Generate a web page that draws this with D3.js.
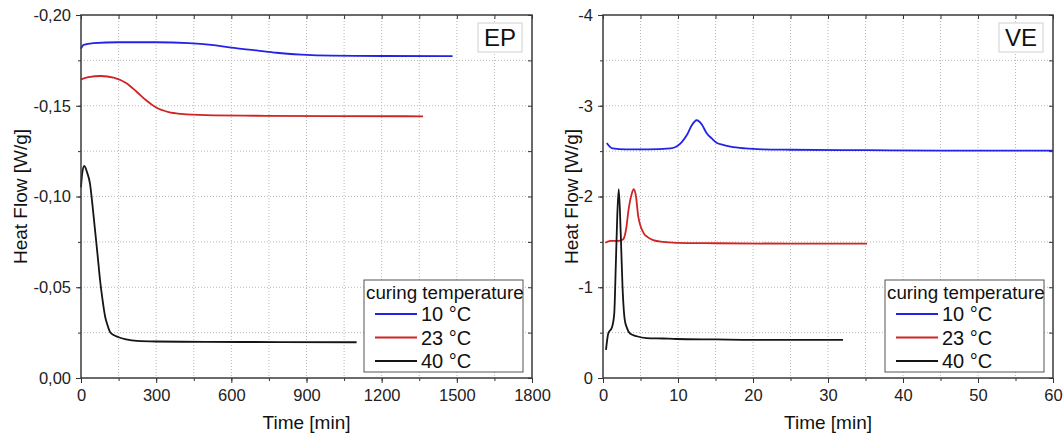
<!DOCTYPE html>
<html lang="en">
    <head>
        <meta charset="utf-8">
        <title>Heat Flow</title>
        <script src="https://d3js.org/d3.v7.min.js"></script>
        <style type="text/css">
            body { margin: 0; background: #fff; }
            svg { font-family: "Liberation Sans", Arial, sans-serif; }
        </style>
    </head>
    <body>
        <script type="text/javascript">

            const w = 1063;
            const h = 437;

            // EP panel (time in min, heat flow in W/g)
            const epTime10 = [0, 10, 50, 150, 300, 430, 520, 600, 700, 780, 880, 1000, 1200, 1483];
            const epFlow10 = [-0.1815, -0.1835, -0.1845, -0.185, -0.185, -0.1845, -0.1835, -0.182, -0.1805, -0.1792, -0.1782, -0.1776, -0.1774, -0.1773];
            const epTime23 = [0, 30, 80, 130, 180, 220, 260, 300, 350, 400, 500, 700, 1000, 1365];
            const epFlow23 = [-0.1645, -0.1658, -0.1664, -0.1655, -0.1625, -0.158, -0.153, -0.149, -0.1465, -0.1455, -0.1448, -0.1445, -0.1443, -0.1442];
            const epTime40 = [0, 5, 13, 25, 36, 46, 56, 66, 76, 86, 96, 106, 116, 130, 148, 180, 223, 300, 500, 800, 1100];
            const epFlow40 = [-0.105, -0.113, -0.1168, -0.113, -0.107, -0.095, -0.0815, -0.068, -0.054, -0.043, -0.034, -0.029, -0.0253, -0.0237, -0.0226, -0.0213, -0.0204, -0.0201, -0.0199, -0.0198, -0.0197];

            // VE panel
            const veTime10 = [0.5, 0.9, 1.3, 3, 6, 9, 9.8, 10.5, 11.2, 11.8, 12.5, 13.2, 13.8, 14.5, 15.2, 16, 17, 19, 21.3, 25, 35, 45, 60];
            const veFlow10 = [-2.59, -2.55, -2.53, -2.52, -2.52, -2.53, -2.55, -2.6, -2.68, -2.78, -2.84, -2.79, -2.7, -2.64, -2.59, -2.57, -2.55, -2.53, -2.52, -2.515, -2.51, -2.505, -2.505];
            const veTime23 = [0.3, 1, 2, 2.7, 3.1, 3.4, 3.8, 4.1, 4.4, 4.7, 5.4, 6, 6.7, 8, 9.8, 15, 25, 35.2];
            const veFlow23 = [-1.49, -1.51, -1.51, -1.53, -1.65, -1.85, -2.02, -2.08, -2.0, -1.78, -1.6, -1.55, -1.52, -1.5, -1.49, -1.485, -1.48, -1.48];
            const veTime40 = [0.4, 0.7, 1.2, 1.5, 1.7, 1.9, 2.1, 2.36, 2.6, 2.9, 3.2, 3.6, 4.5, 5.8, 8, 9.8, 15, 20, 25, 32];
            const veFlow40 = [-0.31, -0.49, -0.56, -0.71, -1.22, -1.78, -2.08, -1.6, -1.01, -0.64, -0.55, -0.49, -0.46, -0.44, -0.435, -0.43, -0.425, -0.42, -0.42, -0.42];

            const seriesNames = ["10 °C", "23 °C", "40 °C"];
            const seriesColors = ["#2323e6", "#d02424", "#151515"];
            const legendTitle = "curing temperature";

            const epXTicks = [0, 300, 600, 900, 1200, 1500, 1800];
            const epYTicks = [-0.20, -0.15, -0.10, -0.05, 0];
            const veXTicks = [0, 10, 20, 30, 40, 50, 60];
            const veYTicks = [-4, -3, -2, -1, 0];

            const svg = d3.select("body")
                          .append("svg")
                          .attr("width", w)
                          .attr("height", h);

            function styleAxis(sel) {
                sel.select(".domain").remove();
                sel.selectAll("line").attr("stroke", "#333");
                sel.selectAll("text")
                   .style("font-family", "'Liberation Sans', Arial, sans-serif")
                   .style("font-size", "16.5px")
                   .attr("fill", "#222");
            }

            function drawPanel(p) {
                const x = d3.scaleLinear().domain(p.xDomain).range([p.left, p.right]);
                const y = d3.scaleLinear().domain(p.yDomain).range([p.bottom, p.top]);
                const g = svg.append("g");

                const xMinor = d3.range(p.xDomain[0], p.xDomain[1] + 1e-9, p.xStep);
                const yMinor = d3.range(0, 9).map(i => p.yDomain[1] * i / 8);

                // dotted grid
                g.selectAll("line.gx").data(xMinor.slice(1, -1)).enter().append("line")
                    .attr("x1", d => x(d)).attr("x2", d => x(d))
                    .attr("y1", p.top).attr("y2", p.bottom)
                    .attr("stroke", "#b8b8b8").attr("stroke-dasharray", "1,2");
                g.selectAll("line.gy").data(yMinor.slice(1, -1)).enter().append("line")
                    .attr("y1", d => y(d)).attr("y2", d => y(d))
                    .attr("x1", p.left).attr("x2", p.right)
                    .attr("stroke", "#b8b8b8").attr("stroke-dasharray", "1,2");

                // curves
                const line = d3.line().x(d => x(d[0])).y(d => y(d[1])).curve(d3.curveMonotoneX);
                p.series.forEach((s, i) => {
                    g.append("path")
                        .datum(d3.zip(s[0], s[1]))
                        .attr("d", line)
                        .attr("fill", "none")
                        .attr("stroke", seriesColors[i])
                        .attr("stroke-width", 1.8);
                });

                // axes: bottom/left out, top/right in
                g.append("g")
                    .attr("transform", "translate(0," + p.bottom + ")")
                    .call(d3.axisBottom(x).tickValues(p.xTicks).tickSize(5).tickPadding(6).tickFormat(d3.format("d")))
                    .call(styleAxis);
                g.append("g")
                    .attr("transform", "translate(0," + p.bottom + ")")
                    .call(d3.axisBottom(x).tickValues(xMinor).tickSize(3).tickFormat(""))
                    .call(styleAxis);
                g.append("g")
                    .attr("transform", "translate(0," + p.top + ")")
                    .call(d3.axisTop(x).tickValues(xMinor).tickSize(-4).tickFormat(""))
                    .call(styleAxis);
                g.append("g")
                    .attr("transform", "translate(" + p.left + ",0)")
                    .call(d3.axisLeft(y).tickValues(p.yTicks).tickSize(5).tickPadding(5).tickFormat(p.yFormat))
                    .call(styleAxis);
                g.append("g")
                    .attr("transform", "translate(" + p.left + ",0)")
                    .call(d3.axisLeft(y).tickValues(yMinor).tickSize(3).tickFormat(""))
                    .call(styleAxis);
                g.append("g")
                    .attr("transform", "translate(" + p.right + ",0)")
                    .call(d3.axisRight(y).tickValues(yMinor).tickSize(-4).tickFormat(""))
                    .call(styleAxis);

                g.append("rect")
                    .attr("x", p.left).attr("y", p.top)
                    .attr("width", p.right - p.left).attr("height", p.bottom - p.top)
                    .attr("fill", "none").attr("stroke", "#3a3a3a").attr("stroke-width", 1.5);

                // titles
                g.append("text")
                    .attr("x", (p.left + p.right) / 2).attr("y", 429)
                    .attr("text-anchor", "middle").style("font-size", "19px").attr("fill", "#111")
                    .text("Time [min]");
                g.append("text")
                    .attr("transform", "translate(" + p.yTitleX + "," + ((p.top + p.bottom) / 2) + ") rotate(-90)")
                    .attr("text-anchor", "middle").style("font-size", "19px").attr("fill", "#111")
                    .text("Heat Flow [W/g]");

                // panel label
                g.append("rect")
                    .attr("x", p.right - 54).attr("y", 23).attr("width", 44).attr("height", 29)
                    .attr("fill", "#fff").attr("stroke", "#d0d0d0");
                g.append("text")
                    .attr("x", p.right - 32).attr("y", 46)
                    .attr("text-anchor", "middle").style("font-size", "24px").attr("fill", "#111")
                    .text(p.label);

                // legend
                const lx = p.right - 168, ly = 280;
                g.append("rect")
                    .attr("x", lx).attr("y", ly).attr("width", 159).attr("height", 92)
                    .attr("fill", "#fff").attr("stroke", "#555").attr("stroke-width", 1);
                g.append("text")
                    .attr("x", lx + 2).attr("y", ly + 19)
                    .style("font-size", "18.8px").attr("fill", "#111")
                    .text(legendTitle);
                const items = g.selectAll("g.legend").data(seriesNames).enter().append("g")
                    .attr("transform", (d, i) => "translate(" + lx + "," + (ly + 34 + i * 23.5) + ")");
                items.append("line")
                    .attr("x1", 11).attr("x2", 53).attr("y1", 0).attr("y2", 0)
                    .attr("stroke", (d, i) => seriesColors[i]).attr("stroke-width", 1.8);
                items.append("text")
                    .attr("x", 57).attr("y", 7)
                    .style("font-size", "20px").attr("fill", "#111")
                    .text(d => d);
            }

            drawPanel({
                left: 81, right: 532, top: 15, bottom: 378,
                xDomain: [0, 1800], yDomain: [0, -0.20], xStep: 150,
                xTicks: epXTicks, yTicks: epYTicks,
                yFormat: d => d3.format(".2f")(d).replace("−", "-").replace(".", ","),
                yTitleX: 27, label: "EP",
                series: [[epTime10, epFlow10], [epTime23, epFlow23], [epTime40, epFlow40]]
            });

            drawPanel({
                left: 603, right: 1053, top: 15, bottom: 378,
                xDomain: [0, 60], yDomain: [0, -4], xStep: 5,
                xTicks: veXTicks, yTicks: veYTicks,
                yFormat: d => String(d),
                yTitleX: 578, label: "VE",
                series: [[veTime10, veFlow10], [veTime23, veFlow23], [veTime40, veFlow40]]
            });

        </script>
    </body>
</html>
